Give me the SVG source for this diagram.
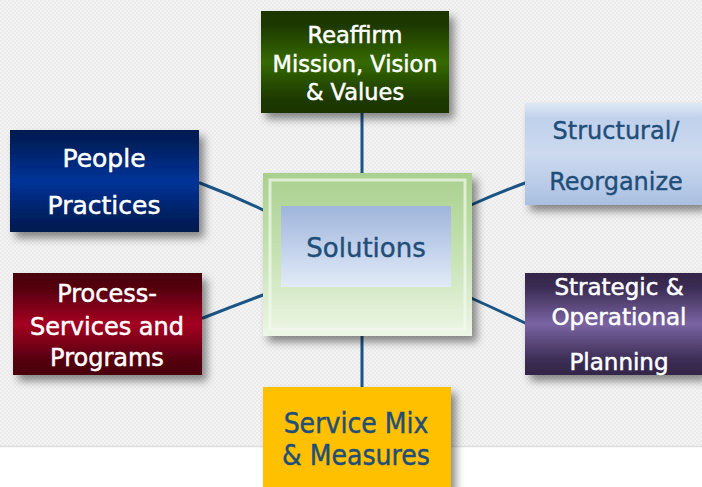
<svg xmlns="http://www.w3.org/2000/svg" width="702" height="487" viewBox="0 0 702 487">
<defs>
<pattern id="bgp" width="4" height="4" patternUnits="userSpaceOnUse">
<rect width="4" height="4" fill="#f3f3f3"/>
<rect width="2" height="2" fill="#ebebeb"/>
<rect x="2" y="2" width="2" height="2" fill="#ebebeb"/>
</pattern>
<filter id="sh" x="-10%" y="-10%" width="130%" height="140%">
<feGaussianBlur in="SourceAlpha" stdDeviation="4"/>
<feOffset dx="5" dy="6" result="b"/>
<feComponentTransfer><feFuncA type="linear" slope="0.45"/></feComponentTransfer>
<feMerge><feMergeNode/><feMergeNode in="SourceGraphic"/></feMerge>
</filter>
<linearGradient id="gGreen" x1="0" y1="0" x2="0" y2="1">
<stop offset="0" stop-color="#1c3500"/><stop offset="0.15" stop-color="#1f3a00"/><stop offset="0.5" stop-color="#356a06"/><stop offset="0.85" stop-color="#1f3a00"/><stop offset="1" stop-color="#1c3500"/>
</linearGradient>
<linearGradient id="gBlue" x1="0" y1="0" x2="0" y2="1">
<stop offset="0" stop-color="#001c50"/><stop offset="0.15" stop-color="#002060"/><stop offset="0.5" stop-color="#003399"/><stop offset="0.85" stop-color="#002060"/><stop offset="1" stop-color="#001c50"/>
</linearGradient>
<linearGradient id="gRed" x1="0" y1="0" x2="0" y2="1">
<stop offset="0" stop-color="#4a0010"/><stop offset="0.15" stop-color="#55000f"/><stop offset="0.5" stop-color="#a50021"/><stop offset="0.85" stop-color="#55000f"/><stop offset="1" stop-color="#4a0010"/>
</linearGradient>
<linearGradient id="gPurple" x1="0" y1="0" x2="0" y2="1">
<stop offset="0" stop-color="#332648"/><stop offset="0.15" stop-color="#3c2d55"/><stop offset="0.5" stop-color="#7a64a2"/><stop offset="0.85" stop-color="#3c2d55"/><stop offset="1" stop-color="#332648"/>
</linearGradient>
<linearGradient id="gLight" x1="0" y1="0" x2="0" y2="1">
<stop offset="0" stop-color="#dfe8f5"/><stop offset="0.15" stop-color="#c0d1ec"/><stop offset="0.5" stop-color="#cddaef"/><stop offset="0.85" stop-color="#b5c8e6"/><stop offset="1" stop-color="#a9bfe1"/>
</linearGradient>
<linearGradient id="gCenterOut" x1="0" y1="0" x2="0" y2="1">
<stop offset="0" stop-color="#a9d08e"/><stop offset="0.5" stop-color="#c6e2b3"/><stop offset="1" stop-color="#edf6e6"/>
</linearGradient>
<linearGradient id="gCenterIn" x1="0" y1="0" x2="0" y2="1">
<stop offset="0" stop-color="#9fb5dc"/><stop offset="1" stop-color="#e2ebf8"/>
</linearGradient>
</defs>
<style>
.t{font-family:"DejaVu Sans","Liberation Sans",sans-serif;text-anchor:middle}
.w{fill:#ffffff;stroke:#ffffff;stroke-width:0.5}
.d{fill:#1f4e79;stroke:#1f4e79;stroke-width:0.4}
.s22{font-size:22.5px}
.s23{font-size:23px}
.s24{font-size:24px}
.s25{font-size:25px}
.s26{font-size:26px}
.n{font-family:"Liberation Sans Narrow","DejaVu Sans Condensed","Liberation Sans",sans-serif;font-size:28px;text-anchor:middle;fill:#1f4e79;stroke:#1f4e79;stroke-width:0.4}
.c{stroke:#1b5585;stroke-width:3;fill:none;stroke-linecap:round}
</style>
<rect width="702" height="447" fill="url(#bgp)"/>
<rect y="447" width="702" height="40" fill="#ffffff"/>
<line x1="0" y1="446.5" x2="702" y2="446.5" stroke="#dedede" stroke-width="1.5"/>

<g id="connectors">
<path class="c" d="M362 113 L362 175"/>
<path class="c" d="M362 336 L362 388"/>
<path class="c" d="M200 183 Q232 195 263 210"/>
<path class="c" d="M203 318 Q233 306 263 295"/>
<path class="c" d="M471 205 Q498 193 525 183"/>
<path class="c" d="M471 298 Q498 310 525 323"/>
</g>

<g id="solutions">
<rect x="263" y="173" width="209" height="163" fill="url(#gCenterOut)" filter="url(#sh)"/>
<rect x="270" y="180" width="195" height="149" fill="none" stroke="#f4faef" stroke-width="3" opacity="0.7"/>
<rect x="281" y="206" width="170" height="81" fill="url(#gCenterIn)"/>
<text class="t d s26" x="366" y="257">Solutions</text>
</g>

<g id="reaffirm">
<rect x="261" y="11" width="188" height="102" fill="url(#gGreen)" filter="url(#sh)"/>
<text class="t w s22" x="355" y="43">Reaffirm</text>
<text class="t w s22" x="355" y="72">Mission, Vision</text>
<text class="t w s22" x="355" y="100">&amp; Values</text>
</g>

<g id="people">
<rect x="10" y="130" width="189" height="102" fill="url(#gBlue)" filter="url(#sh)"/>
<text class="t w s25" x="104" y="167">People</text>
<text class="t w s25" x="104" y="214">Practices</text>
</g>

<g id="structural">
<rect x="525" y="103" width="177" height="102" fill="url(#gLight)" filter="url(#sh)"/>
<text class="t d s24" x="616" y="139">Structural/</text>
<text class="t d s24" x="616" y="190">Reorganize</text>
</g>

<g id="process">
<rect x="13" y="273" width="189" height="102" fill="url(#gRed)" filter="url(#sh)"/>
<text class="t w s24" x="107" y="302">Process-</text>
<text class="t w s24" x="107" y="335">Services and</text>
<text class="t w s24" x="107" y="366">Programs</text>
</g>

<g id="strategic">
<rect x="525" y="273" width="177" height="102" fill="url(#gPurple)" filter="url(#sh)"/>
<text class="t w s23" x="619" y="295">Strategic &amp;</text>
<text class="t w s23" x="619" y="325">Operational</text>
<text class="t w s23" x="619" y="370">Planning</text>
</g>

<g id="servicemix">
<rect x="263" y="387" width="188" height="110" fill="#ffc000" filter="url(#sh)"/>
<text class="n" x="356" y="433">Service Mix</text>
<text class="n" x="356" y="465">&amp; Measures</text>
</g>
</svg>
